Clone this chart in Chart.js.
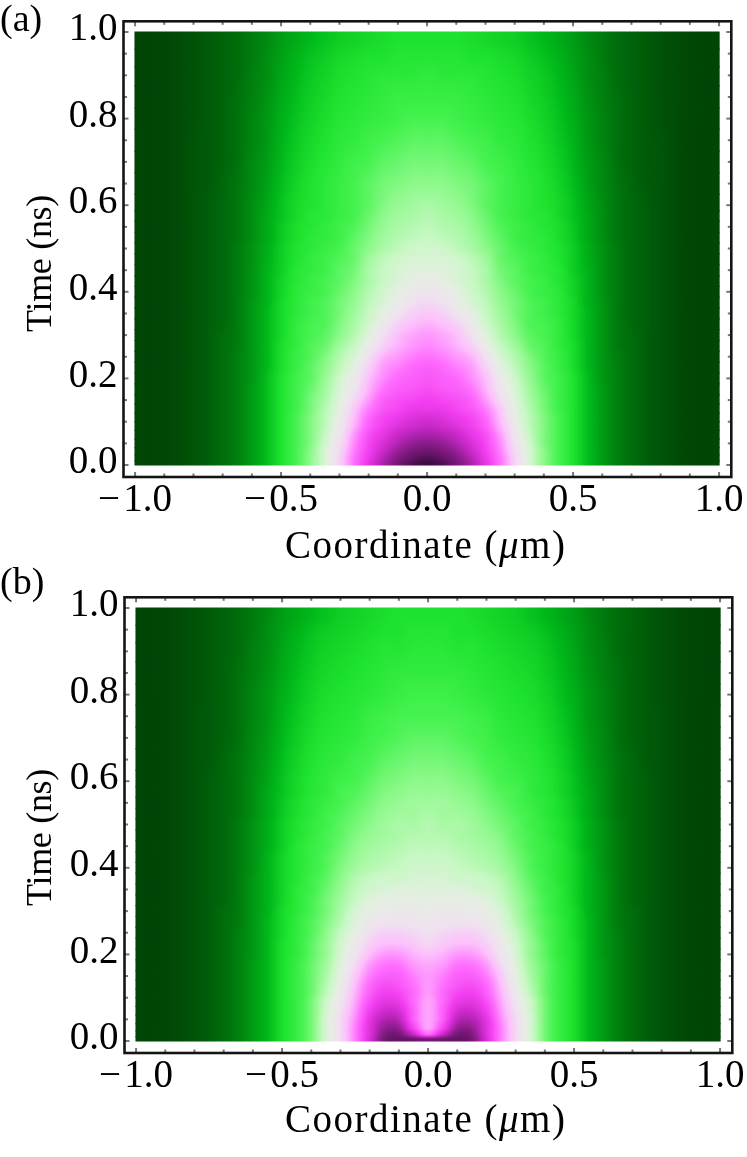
<!DOCTYPE html>
<html>
<head>
<meta charset="utf-8">
<script src="https://cdn.jsdelivr.net/npm/chart.js@4"></script>
<style>
  html, body { margin: 0; padding: 0; background: #fff; }
  body { position: relative; width: 747px; height: 1157px; overflow: hidden; font-family: "Liberation Serif", serif; color: #000; }
  canvas { position: absolute; }
  .lbl { position: absolute; white-space: nowrap; line-height: 1; }
  .xt { font-size: 39px; letter-spacing: 1.5px; }
  .yt { font-size: 36px; letter-spacing: -.3px; transform: rotate(-90deg); transform-origin: 0 0; }
  .pn { font-size: 38px; left: 0; }
</style>
</head>
<body>
<canvas id="chartA" width="747" height="581" style="left:0;top:0"></canvas>
<canvas id="chartB" width="747" height="581" style="left:1px;top:576px"></canvas>
<div class="lbl pn" style="top:-1px">(a)</div>
<div class="lbl pn" style="top:562px">(b)</div>
<div class="lbl xt" style="left:285px;top:525px">Coordinate (<i>μ</i>m)</div>
<div class="lbl xt" style="left:285px;top:1099px">Coordinate (<i>μ</i>m)</div>
<div class="lbl yt" style="left:21px;top:332px">Time (ns)</div>
<div class="lbl yt" style="left:21px;top:906px">Time (ns)</div>
<script>
// sampled coordinates (right half, picture is mirror symmetric about 0)
const coords = [0, .05, .1, .15, .2, .25, .3, .35, .4, .45, .5, .55, .6, .65, .7, .75, .8, .85, .9, .95, 1];
const times = [.005, .015, .03, .05, .07, .09, .11, .13, .15, .175, .2, .225, .25, .275, .3, .325, .35, .375, .4, .425, .45, .475, .5, .525, .55, .575, .6, .65, .7, .75, .8, .85, .9, .94, .98];

// colour level, one row per time, 0 = darkest green, 100 = darkest purple
const levelsA = [
  [100, 98, 94, 89, 82, 74, 66, 58, 50, 44, 38, 31, 24, 18, 14, 11, 8, 5, 3, 2, 3],
  [98, 96, 93, 88, 81, 74, 66, 58, 50, 44, 38, 31, 24, 18, 14, 11, 8, 5, 3, 2, 3],
  [95, 94, 91, 86, 80, 73, 65, 58, 50, 44, 38, 31, 24, 18, 14, 11, 8, 5, 3, 2, 3],
  [92, 91, 88, 84, 79, 72, 64, 57, 49, 44, 38, 31, 24, 18, 14, 11, 8, 5, 3, 2, 3],
  [89, 88, 86, 82, 78, 71, 63, 56, 49, 44, 38, 31, 24, 18, 14, 11, 8, 5, 3, 2, 3],
  [86, 85, 83, 80, 76, 69, 62, 55, 49, 44, 38, 31, 24, 18, 14, 11, 8, 5, 3, 2, 3],
  [84, 83, 81, 79, 75, 68, 61, 55, 49, 44, 38, 31, 24, 18, 14, 11, 8, 5, 3, 2, 3],
  [81, 81, 79, 77, 73, 67, 60, 54, 48, 43, 38, 31, 24, 18, 14, 11, 8, 5, 3, 2, 3],
  [80, 79, 78, 76, 71, 65, 59, 53, 48, 43, 38, 31, 24, 18, 14, 11, 8, 5, 3, 2, 3],
  [78, 77, 76, 74, 69, 63, 58, 52, 47, 43, 38, 31, 24, 18, 14, 11, 8, 5, 3, 2, 3],
  [77, 76, 75, 72, 68, 62, 57, 51, 46, 43, 38, 31, 23, 18, 14, 11, 8, 5, 3, 2, 3],
  [76, 75, 73, 71, 66, 60, 55, 50, 46, 42, 37, 30, 23, 18, 14, 11, 8, 5, 3, 2, 3],
  [74, 73, 71, 69, 64, 58, 54, 49, 45, 42, 37, 30, 23, 18, 14, 11, 8, 5, 3, 2, 3],
  [72, 71, 69, 66, 61, 56, 52, 47, 45, 41, 37, 30, 23, 17, 14, 11, 8, 5, 3, 2, 3],
  [71, 70, 68, 64, 59, 54, 50, 46, 44, 41, 36, 30, 23, 17, 14, 11, 8, 5, 3, 2, 3],
  [69, 68, 66, 62, 57, 53, 49, 45, 44, 41, 36, 30, 23, 17, 13, 11, 8, 5, 3, 2, 3],
  [67, 66, 63, 60, 56, 52, 48, 45, 43, 40, 36, 30, 23, 17, 13, 11, 8, 5, 3, 2, 3],
  [65, 64, 61, 58, 55, 51, 48, 45, 43, 40, 36, 29, 23, 17, 13, 11, 8, 5, 3, 2, 3],
  [63, 62, 60, 57, 54, 50, 47, 44, 42, 40, 35, 29, 22, 17, 13, 11, 8, 5, 3, 2, 3],
  [61, 60, 58, 56, 53, 49, 46, 44, 42, 39, 35, 29, 22, 17, 13, 11, 8, 5, 3, 2, 3],
  [59, 59, 58, 56, 53, 48, 46, 43, 41, 39, 34, 29, 22, 17, 13, 11, 8, 5, 3, 2, 3],
  [58, 58, 57, 55, 52, 47, 45, 43, 41, 38, 34, 28, 22, 17, 13, 11, 8, 5, 3, 2, 3],
  [57, 57, 55, 53, 50, 47, 44, 42, 40, 38, 34, 28, 22, 17, 13, 11, 8, 5, 3, 2, 3],
  [56, 55, 54, 52, 49, 46, 43, 41, 40, 37, 33, 27, 21, 16, 13, 11, 8, 5, 3, 2, 3],
  [55, 54, 53, 51, 48, 45, 43, 41, 39, 37, 33, 27, 21, 16, 13, 11, 8, 5, 3, 2, 3],
  [54, 53, 52, 50, 47, 44, 42, 40, 39, 36, 32, 27, 21, 16, 13, 11, 8, 5, 3, 2, 3],
  [53, 52, 51, 49, 46, 44, 42, 40, 38, 36, 32, 26, 21, 16, 13, 11, 8, 5, 3, 2, 3],
  [50, 50, 49, 48, 46, 44, 42, 40, 38, 35, 31, 25, 20, 16, 13, 10, 8, 5, 3, 2, 3],
  [48, 48, 47, 46, 44, 43, 41, 39, 37, 34, 30, 24, 20, 15, 12, 10, 8, 5, 3, 2, 3],
  [46, 46, 45, 44, 43, 41, 40, 38, 36, 33, 29, 23, 19, 15, 12, 10, 8, 5, 3, 2, 3],
  [44, 44, 43, 42, 41, 40, 39, 37, 35, 32, 28, 23, 19, 15, 12, 10, 7, 5, 3, 2, 2],
  [42, 42, 42, 41, 40, 39, 38, 36, 34, 31, 27, 22, 18, 15, 12, 10, 7, 5, 3, 2, 2],
  [41, 40, 40, 40, 39, 38, 37, 35, 33, 30, 26, 21, 18, 14, 12, 10, 7, 5, 3, 2, 2],
  [39, 39, 39, 38, 38, 37, 36, 34, 32, 29, 25, 21, 17, 14, 12, 10, 7, 5, 3, 2, 2],
  [38, 38, 38, 37, 36, 35, 34, 32, 30, 27, 24, 20, 17, 14, 12, 10, 7, 5, 3, 2, 2]
];
const levelsB = [
  [94, 95, 96, 94, 84, 73, 65, 58, 48, 42, 37, 30, 24, 18, 14, 11, 8, 5, 3, 2, 3],
  [75, 86, 94, 93, 83, 73, 65, 58, 48, 42, 37, 30, 24, 18, 14, 11, 8, 5, 3, 2, 3],
  [70, 79, 91, 91, 83, 73, 65, 58, 48, 42, 37, 30, 24, 18, 14, 11, 8, 5, 3, 2, 3],
  [70, 76, 87, 88, 82, 72, 65, 58, 48, 42, 37, 30, 24, 18, 14, 11, 8, 5, 3, 2, 3],
  [70, 76, 84, 85, 80, 71, 64, 57, 48, 42, 37, 30, 24, 18, 14, 11, 8, 5, 3, 2, 3],
  [70, 75, 81, 82, 78, 70, 63, 57, 48, 42, 37, 30, 24, 18, 14, 11, 8, 5, 3, 2, 3],
  [71, 75, 79, 80, 76, 69, 62, 55, 47, 42, 37, 30, 24, 18, 14, 11, 8, 5, 3, 2, 3],
  [71, 74, 77, 78, 75, 68, 61, 54, 47, 42, 37, 30, 24, 18, 14, 11, 8, 5, 3, 2, 3],
  [71, 73, 76, 76, 73, 67, 60, 53, 47, 42, 37, 30, 24, 18, 14, 11, 8, 5, 3, 2, 3],
  [70, 71, 74, 74, 71, 65, 59, 52, 47, 42, 37, 30, 24, 18, 14, 11, 8, 5, 3, 2, 3],
  [68, 69, 71, 71, 68, 63, 58, 51, 46, 41, 37, 30, 23, 18, 14, 11, 8, 5, 3, 2, 3],
  [65, 67, 68, 68, 66, 62, 57, 51, 46, 41, 37, 30, 23, 18, 14, 11, 8, 5, 3, 2, 3],
  [64, 65, 66, 66, 64, 60, 56, 50, 45, 41, 36, 30, 23, 18, 14, 11, 8, 5, 3, 2, 3],
  [63, 63, 63, 63, 62, 59, 54, 49, 45, 41, 36, 30, 23, 17, 14, 11, 8, 5, 3, 2, 3],
  [61, 62, 62, 61, 60, 58, 53, 48, 44, 40, 36, 29, 23, 17, 14, 11, 8, 5, 3, 2, 3],
  [60, 60, 60, 60, 59, 56, 52, 48, 44, 40, 35, 29, 23, 17, 13, 11, 8, 5, 3, 2, 3],
  [59, 59, 59, 58, 57, 55, 51, 47, 43, 40, 35, 29, 23, 17, 13, 11, 8, 5, 3, 2, 3],
  [58, 58, 57, 57, 56, 54, 50, 46, 43, 39, 35, 29, 23, 17, 13, 11, 8, 5, 3, 2, 3],
  [57, 57, 56, 55, 54, 52, 49, 45, 42, 39, 35, 29, 22, 17, 13, 11, 8, 5, 3, 2, 3],
  [56, 56, 55, 54, 53, 51, 48, 45, 42, 39, 35, 29, 22, 17, 13, 11, 8, 5, 3, 2, 3],
  [55, 55, 54, 53, 52, 50, 47, 44, 42, 39, 34, 28, 22, 17, 13, 11, 8, 5, 3, 2, 3],
  [54, 54, 53, 52, 51, 49, 46, 44, 41, 38, 34, 28, 22, 17, 13, 11, 8, 5, 3, 2, 3],
  [54, 53, 53, 52, 50, 48, 46, 43, 41, 38, 34, 28, 22, 17, 13, 11, 8, 5, 3, 2, 3],
  [53, 52, 52, 51, 49, 47, 45, 43, 40, 37, 33, 27, 21, 16, 13, 11, 8, 5, 3, 2, 3],
  [52, 52, 51, 50, 48, 46, 44, 42, 40, 37, 33, 27, 21, 16, 13, 11, 8, 5, 3, 2, 3],
  [51, 51, 50, 49, 47, 45, 44, 41, 39, 36, 32, 27, 21, 16, 13, 11, 8, 5, 3, 2, 3],
  [50, 50, 49, 48, 46, 44, 43, 41, 39, 36, 32, 26, 21, 16, 13, 11, 8, 5, 3, 2, 3],
  [48, 48, 47, 46, 44, 43, 41, 40, 38, 35, 31, 25, 20, 16, 13, 10, 8, 5, 3, 2, 3],
  [46, 46, 45, 44, 43, 41, 40, 39, 37, 34, 30, 24, 20, 15, 12, 10, 8, 5, 3, 2, 3],
  [44, 44, 44, 43, 42, 40, 39, 38, 36, 33, 29, 23, 19, 15, 12, 10, 8, 5, 3, 2, 3],
  [43, 43, 42, 41, 40, 39, 38, 37, 35, 32, 28, 23, 19, 15, 12, 10, 7, 5, 3, 2, 2],
  [41, 41, 41, 40, 39, 38, 37, 36, 34, 31, 27, 22, 18, 15, 12, 10, 7, 5, 3, 2, 2],
  [40, 40, 39, 39, 38, 37, 36, 35, 33, 30, 26, 21, 18, 14, 12, 10, 7, 5, 3, 2, 2],
  [39, 39, 38, 38, 37, 36, 35, 34, 32, 29, 25, 21, 17, 14, 12, 10, 7, 5, 3, 2, 2],
  [38, 38, 38, 37, 36, 35, 34, 32, 30, 27, 24, 20, 17, 14, 12, 10, 7, 5, 3, 2, 2]
];

const xTicks = [-1, -.9, -.8, -.7, -.6, -.5, -.4, -.3, -.2, -.1, 0, .1, .2, .3, .4, .5, .6, .7, .8, .9, 1];
const yTicks = [0, .05, .1, .15, .2, .25, .3, .35, .4, .45, .5, .55, .6, .65, .7, .75, .8, .85, .9, .95, 1];
const xLabels = [-1, -.5, 0, .5, 1];
const yLabels = [0, .2, .4, .6, .8, 1];

// colour scale
const scaleLevels = [0, 10, 20, 30, 38, 44, 50, 56, 60, 64, 68, 74, 80, 86, 92, 100];
const scaleColors = [[0,63,5], [0,90,8], [0,138,16], [0,184,26], [30,227,46], [69,242,79], [141,249,138], [200,248,196], [230,238,228], [240,224,240], [252,192,252], [255,112,255], [242,62,240], [200,40,200], [138,28,138], [60,10,65]];

function levelColor(v) {
  v = Math.min(100, Math.max(0, v));
  let i = 0;
  while (i < scaleLevels.length - 2 && v > scaleLevels[i + 1]) i++;
  const f = (v - scaleLevels[i]) / (scaleLevels[i + 1] - scaleLevels[i]);
  return scaleColors[i].map((a, k) => a + (scaleColors[i + 1][k] - a) * f);
}

// position of v in a sorted list: lower index and fraction towards the next one
function locate(list, v) {
  let i = 0;
  while (i < list.length - 2 && v > list[i + 1]) i++;
  const f = (v - list[i]) / (list[i + 1] - list[i]);
  return [i, Math.min(1, Math.max(0, f))];
}

// level along one row, rounded between samples (row is mirrored at x = 0)
function rowLevel(row, c, f) {
  const at = i => row[Math.min(row.length - 1, Math.abs(i))];
  const p0 = at(c - 1), p1 = at(c), p2 = at(c + 1), p3 = at(c + 2);
  return p1 + .5 * f * (p2 - p0 + f * (2 * p0 - 5 * p1 + 4 * p2 - p3 + f * (3 * (p1 - p2) + p3 - p0)));
}

// fill for the time rows: the level table shaded smoothly, like a density plot
function rowFill(ctx, levels) {
  const chart = ctx.chart;
  const {x: xs, y: ys} = chart.scales;
  if (ctx.type !== 'data' || !xs || !isFinite(xs.getPixelForValue(-1))) return 'transparent';
  if (chart.$fill) return chart.$fill;
  const off = document.createElement('canvas');
  off.width = chart.width;
  off.height = chart.height;
  const octx = off.getContext('2d');
  const img = octx.createImageData(off.width, off.height);
  const x0 = Math.floor(xs.getPixelForValue(-1)) - 2, x1 = Math.ceil(xs.getPixelForValue(1)) + 2;
  const y0 = Math.floor(ys.getPixelForValue(1)) - 2, y1 = Math.ceil(ys.getPixelForValue(0)) + 2;
  for (let py = y0; py <= y1; py++) {
    const [r, fr] = locate(times, ys.getValueForPixel(py + .5));
    for (let px = x0; px <= x1; px++) {
      const [c, fc] = locate(coords, Math.abs(xs.getValueForPixel(px + .5)));
      const lo = rowLevel(levels[r], c, fc);
      const hi = rowLevel(levels[r + 1], c, fc);
      const rgb = levelColor(lo + (hi - lo) * fr);
      const k = (py * off.width + px) * 4;
      img.data[k] = rgb[0]; img.data[k + 1] = rgb[1]; img.data[k + 2] = rgb[2]; img.data[k + 3] = 255;
    }
  }
  octx.putImageData(img, 0, 0);
  chart.$fill = chart.ctx.createPattern(off, 'no-repeat');
  return chart.$fill;
}

// frame and inward ticks on all four sides
const framePlugin = {
  id: 'frame',
  afterDraw(chart) {
    const {ctx, chartArea: a, scales} = chart;
    ctx.save();
    ctx.fillStyle = '#777';
    scales.x.ticks.forEach(t => {
      const len = xLabels.includes(t.value) ? 5 : 3.5;
      const p = scales.x.getPixelForValue(t.value);
      ctx.fillRect(p - 1, a.bottom - len, 2, len);
      ctx.fillRect(p - 1, a.top, 2, len);
    });
    scales.y.ticks.forEach(t => {
      const len = yLabels.includes(t.value) ? 5 : 3.5;
      const p = scales.y.getPixelForValue(t.value);
      ctx.fillRect(a.left, p - 1, len, 2);
      ctx.fillRect(a.right - len, p - 1, len, 2);
    });
    ctx.strokeStyle = '#151515';
    ctx.lineWidth = 2.6;
    ctx.strokeRect(a.left, a.top, a.right - a.left, a.bottom - a.top);
    ctx.restore();
  }
};

function tickStyle() {
  return {family: '"Liberation Serif", serif', size: 39};
}

function makeChart(id, levels) {
  return new Chart(document.getElementById(id), {
    type: 'bar',
    data: {
      datasets: [{
        data: times.map(t => ({y: t, x: [-1, 1]})),
        backgroundColor: ctx => rowFill(ctx, levels),
        borderWidth: 0,
        inflateAmount: .6,
        barThickness: 'flex',
        categoryPercentage: 1,
        barPercentage: 1
      }]
    },
    plugins: [framePlugin],
    options: {
      indexAxis: 'y',
      responsive: false,
      animation: false,
      layout: {padding: {top: 21.3, right: 15.7, left: 0, bottom: 0}},
      plugins: {legend: {display: false}, tooltip: {enabled: false}},
      scales: {
        x: {
          type: 'linear',
          min: -1.0396,
          max: 1.0419,
          grid: {display: false, drawTicks: false},
          border: {display: false},
          afterBuildTicks: s => { s.ticks = xTicks.map(v => ({value: v})); },
          afterFit: s => { s.height = 104; s.paddingLeft = 0; s.paddingRight = 0; },
          ticks: {
            autoSkip: false,
            maxRotation: 0,
            padding: 0,
            color: '#000',
            font: tickStyle(),
            callback: v => xLabels.includes(v) ? (v < 0 ? '\u2212\u200a' : '') + Math.abs(v).toFixed(1) : ''
          }
        },
        y: {
          type: 'linear',
          offset: false,
          min: -.0277,
          max: 1.0247,
          grid: {display: false, drawTicks: false},
          border: {display: false},
          afterBuildTicks: s => { s.ticks = yTicks.map(v => ({value: v})); },
          afterFit: s => { s.width = 123.5; s.paddingTop = 0; s.paddingBottom = 0; },
          ticks: {
            autoSkip: false,
            padding: 6,
            labelOffset: -2,
            color: '#000',
            font: tickStyle(),
            callback: v => yLabels.includes(v) ? v.toFixed(1) : ''
          }
        }
      }
    }
  });
}

makeChart('chartA', levelsA);
makeChart('chartB', levelsB);
</script>
</body>
</html>
